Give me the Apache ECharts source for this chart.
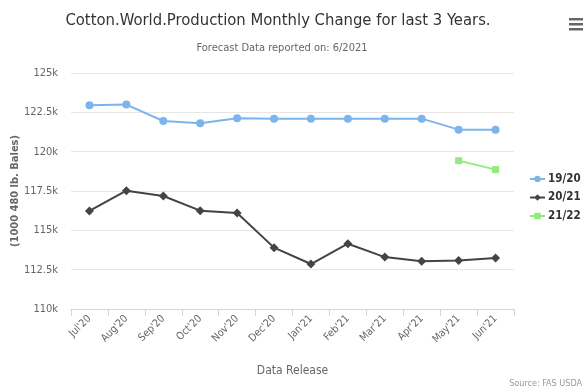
<!DOCTYPE html>
<html>
<head>
<meta charset="utf-8">
<script src="https://cdn.jsdelivr.net/npm/echarts@6/dist/echarts.min.js"></script>
<style>
  html, body { margin: 0; padding: 0; background: #fff; }
  #chart { width: 587px; height: 391px; }
</style>
</head>
<body>
<div id="chart"></div>
<script>
// Monthly report releases
var releases = ["Jul'20", "Aug'20", "Sep'20", "Oct'20", "Nov'20", "Dec'20",
                "Jan'21", "Feb'21", "Mar'21", "Apr'21", "May'21", "Jun'21"];

// World cotton production estimates (1000 480 lb. bales) per marketing year
var my1920 = [122950, 122990, 121950, 121800, 122120, 122100,
              122100, 122100, 122100, 122100, 121400, 121400];
var my2021 = [116230, 117520, 117180, 116250, 116100, 113900,
              112860, 114150, 113300, 113030, 113090, 113240];
var my2122 = [null, null, null, null, null, null,
              null, null, null, null, 119430, 118860];

var seriesNames = ['19/20', '20/21', '21/22'];

var yTicks = { min: 110000, max: 125000, step: 2500 };

var FONT = '"Liberation Sans Narrow", "DejaVu Sans Condensed", "Liberation Sans", sans-serif';

var chart = echarts.init(document.getElementById('chart'), null, { renderer: 'canvas' });

chart.setOption({
  animation: false,
  backgroundColor: '#ffffff',
  textStyle: { fontFamily: FONT },
  legend: {
    orient: 'vertical',
    left: 524,
    top: 168,
    itemWidth: 15,
    itemHeight: 8,
    itemGap: 6.5,
    data: seriesNames,
    textStyle: { fontFamily: FONT, fontSize: 11.5, fontWeight: 'bold', color: '#333333', padding: [0, 0, 0, -2] }
  },
  grid: { left: 71, right: 73, top: 73, bottom: 82, outerBoundsMode: 'none', containLabel: false },
  xAxis: {
    type: 'category',
    data: releases,
    boundaryGap: true,
    name: 'Data Release',
    nameLocation: 'middle',
    nameGap: 56,
    nameTextStyle: { fontFamily: FONT, fontSize: 12, color: '#666666' },
    axisLine: { lineStyle: { color: '#ccd6eb', width: 1 } },
    axisTick: { show: true, length: 7, lineStyle: { color: '#ccd6eb' } },
    axisLabel: { rotate: 45, fontFamily: FONT, fontSize: 10.5, color: '#666666', margin: 8 },
    splitLine: { show: false }
  },
  yAxis: {
    type: 'value',
    min: yTicks.min,
    max: yTicks.max,
    interval: yTicks.step,
    name: '(1000 480 lb. Bales)',
    nameLocation: 'middle',
    nameRotate: 90,
    nameGap: 50,
    nameMoveOverlap: false,
    nameTextStyle: { fontFamily: FONT, fontSize: 11, fontWeight: 'bold', color: '#666666' },
    axisLine: { show: false },
    axisTick: { show: false },
    axisLabel: {
      fontFamily: FONT, fontSize: 11, color: '#666666', margin: 13,
      formatter: function (v) { return (v / 1000) + 'k'; }
    },
    splitLine: { lineStyle: { color: '#e6e6e6', width: 1 } }
  },
  series: [
    {
      name: seriesNames[0],
      type: 'line',
      data: my1920,
      color: '#7cb5ec',
      symbol: 'circle',
      symbolSize: 8,
      lineStyle: { width: 2, color: '#7cb5ec' },
      itemStyle: { color: '#7cb5ec' }
    },
    {
      name: seriesNames[1],
      type: 'line',
      data: my2021,
      color: '#434348',
      symbol: 'diamond',
      symbolSize: 9,
      lineStyle: { width: 2, color: '#434348' },
      itemStyle: { color: '#434348' }
    },
    {
      name: seriesNames[2],
      type: 'line',
      data: my2122,
      color: '#90ed7d',
      symbol: 'rect',
      symbolSize: 7,
      lineStyle: { width: 2, color: '#90ed7d' },
      itemStyle: { color: '#90ed7d' }
    }
  ],
  graphic: [
    {
      type: 'text', x: 278, y: 21,
      style: {
        text: 'Cotton.World.Production Monthly Change for last 3 Years.',
        font: '16.5px ' + FONT, fill: '#333333', textAlign: 'center', textVerticalAlign: 'middle'
      }
    },
    {
      type: 'text', x: 282, y: 48,
      style: {
        text: 'Forecast Data reported on: 6/2021',
        font: '11px ' + FONT, fill: '#666666', textAlign: 'center', textVerticalAlign: 'middle'
      }
    },
    { type: 'rect', left: 569, top: 18, shape: { width: 14, height: 2.5 }, style: { fill: '#666666' } },
    { type: 'rect', left: 569, top: 23, shape: { width: 14, height: 2.5 }, style: { fill: '#666666' } },
    { type: 'rect', left: 569, top: 28, shape: { width: 14, height: 2.5 }, style: { fill: '#666666' } },
    {
      type: 'text', right: 5, bottom: 3,
      style: { text: 'Source: FAS USDA', font: '9px ' + FONT, fill: '#999999' }
    }
  ]
});
</script>
</body>
</html>
